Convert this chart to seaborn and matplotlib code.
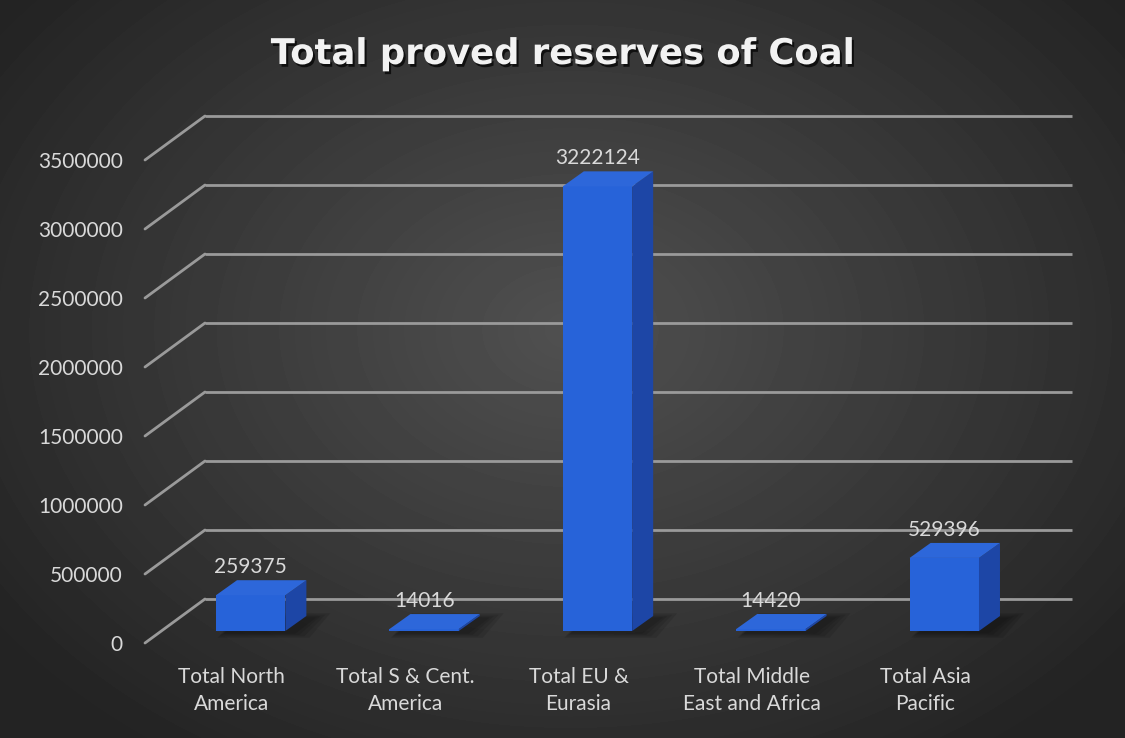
import numpy as np
import pandas as pd
import matplotlib
matplotlib.use("Agg")
import matplotlib.pyplot as plt
import matplotlib.transforms as mtransforms
import matplotlib.patheffects as pe
from matplotlib.patches import Polygon
from matplotlib.lines import Line2D
import seaborn as sns

# ---- data -------------------------------------------------------------
categories = [
    "Total North\nAmerica",
    "Total S & Cent.\nAmerica",
    "Total EU &\nEurasia",
    "Total Middle\nEast and Africa",
    "Total Asia\nPacific",
]
reserves = [259375, 14016, 3222124, 14420, 529396]
y_ticks = [0, 500000, 1000000, 1500000, 2000000, 2500000, 3000000, 3500000]

# ---- style ------------------------------------------------------------
sns.set_theme(style="white")
plt.rcParams["font.family"] = ["Lato", "DejaVu Sans"]

W, H, DPI = 1125, 738, 100
TEXT = "#d9d9d9"
GRID = "#9a9a9a"
FRONT = "#2763d9"
TOP = "#2d67da"
SIDE = "#1d46a6"

fig = plt.figure(figsize=(W / DPI, H / DPI), dpi=DPI)

# radial dark-grey backdrop
bg = fig.add_axes([0, 0, 1, 1], zorder=-10)
yy, xx = np.mgrid[0:H, 0:W]
r = np.sqrt(((xx - 570) / 640.0) ** 2 + ((yy - 330) / 470.0) ** 2)
shade = np.clip(0.315 - 0.16 * r, 0.14, 1.0)
bg.imshow(shade, cmap="gray", vmin=0, vmax=1, aspect="auto",
          extent=[0, 1, 0, 1], origin="upper")
bg.axis("off")

# front plane of the 3-D box
ax = fig.add_axes([145 / W, (H - 643) / H, 867 / W, 483 / H])
ax.patch.set_visible(False)

df = pd.DataFrame({"region": categories, "reserves": reserves})
sns.barplot(data=df, x="region", y="reserves", ax=ax, width=0.4,
            color=FRONT, saturation=1, edgecolor="none", zorder=3)

ax.set_xlim(-0.5, 4.5)
ax.set_ylim(0, 3500000)
ax.set_yticks(y_ticks)
ax.set_yticklabels([str(t) for t in y_ticks])
ax.set_xlabel("")
ax.set_ylabel("")
ax.tick_params(axis="y", length=0, pad=16, labelsize=15, labelcolor=TEXT)
ax.tick_params(axis="x", length=0, pad=17, labelsize=15, labelcolor=TEXT)
for lbl in ax.get_xticklabels():
    lbl.set_linespacing(1.45)
for s in ax.spines.values():
    s.set_visible(False)


def shifted(dx, dy):
    """Data transform pushed back into depth by (dx, dy) pixels."""
    return ax.transData + mtransforms.ScaledTranslation(
        dx / DPI, dy / DPI, fig.dpi_scale_trans)


ident = mtransforms.IdentityTransform()
wall = shifted(60, 44)
bar_front = shifted(19, 12)
bar_back = shifted(40, 27)

# back-wall gridlines and the diagonal floor/side edges
for t in y_ticks:
    ax.plot([-0.5, 4.5], [t, t], transform=wall, color=GRID, lw=2,
            clip_on=False, zorder=0.5, solid_capstyle="butt")
    p0 = ax.transData.transform((-0.5, t))
    p1 = wall.transform((-0.5, t))
    ax.add_line(Line2D([p0[0], p1[0]], [p0[1], p1[1]], transform=ident,
                       color=GRID, lw=2, clip_on=False, zorder=0.5))

# give each bar depth: floor shadow, top face, right face and a value label
for patch, val in zip(ax.patches, reserves):
    x0 = patch.get_x()
    x1 = x0 + patch.get_width()
    h = patch.get_height()
    patch.set_transform(bar_front)
    patch.set_clip_on(False)

    fl0 = bar_front.transform((x0, 0))
    fr0 = bar_front.transform((x1, 0))
    br0 = bar_back.transform((x1, 0))
    bl0 = bar_back.transform((x0, 0))
    for k, grow in enumerate([16, 11, 6, 2]):
        pts = np.array([fl0, fr0, br0, bl0]) + np.array([8, -2])
        pts = pts + np.array([[-grow * 0.4, -grow * 0.3], [grow, -grow * 0.3],
                              [grow, grow * 0.3], [-grow * 0.4, grow * 0.3]])
        ax.add_patch(Polygon(pts, closed=True, transform=ident,
                             facecolor="black", edgecolor="none",
                             alpha=0.10, zorder=1, clip_on=False))

    flt = bar_front.transform((x0, h))
    frt = bar_front.transform((x1, h))
    brt = bar_back.transform((x1, h))
    blt = bar_back.transform((x0, h))
    ax.add_patch(Polygon([fr0, frt, brt, br0], closed=True, transform=ident,
                         facecolor=SIDE, edgecolor="none", zorder=3,
                         clip_on=False))
    ax.add_patch(Polygon([flt, frt, brt, blt], closed=True, transform=ident,
                         facecolor=TOP, edgecolor="none", zorder=3,
                         clip_on=False))

    cx = (x0 + x1) / 2
    xd = bar_front.transform((cx, h))[0]
    yd = bar_back.transform((cx, h))[1] + 3
    ax.text(xd, yd, str(val), transform=ident, ha="center", va="bottom",
            fontsize=15, color=TEXT, zorder=5, clip_on=False)

fig.text(0.5, 1 - 64 / H, "Total proved reserves of Coal", ha="center",
         va="baseline", fontsize=25.5, fontweight="bold", color="#f2f2f2",
         family=["DejaVu Sans"],
         path_effects=[pe.withSimplePatchShadow(offset=(1.5, -2),
                                                shadow_rgbFace="black",
                                                alpha=0.7)])

fig.savefig("out.png", dpi=DPI)
